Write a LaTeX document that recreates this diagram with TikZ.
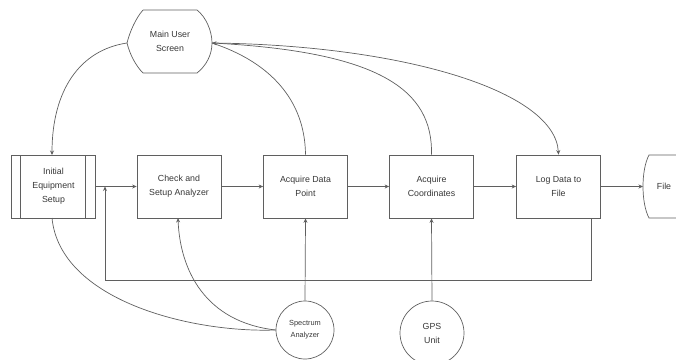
\documentclass[tikz,border=0pt]{standalone}
\usepackage{fontspec}
\setmainfont{Liberation Sans}
\usetikzlibrary{arrows.meta}
\definecolor{ln}{RGB}{95,95,95}
\definecolor{tx}{RGB}{55,55,55}
\begin{document}
\begin{tikzpicture}[x=1pt,y=-1pt,
  line width=0.7pt,
  every node/.style={text=tx,font=\fontsize{8.8}{14}\selectfont,align=center},
  procbox/.style={draw=ln,rectangle,minimum width=84pt,minimum height=63pt,inner sep=1pt},
  ext/.style={draw=ln,circle,inner sep=0pt},
  conn/.style={draw=ln},
  arr/.style={conn,-{Stealth[length=4.5pt,width=4pt]}}]
\useasboundingbox (0,0) rectangle (676,359);
% boxes
\node[procbox] (initial) at (53.5,186.5) {Initial\\Equipment\\Setup};
\draw[ln] (20,155) -- (20,218) (85,155) -- (85,218);
\node[procbox] (check) at (179,186.5) {Check and\\Setup Analyzer};
\node[procbox] (acq) at (305.5,186.5) {Acquire Data\\Point};
\node[procbox] (coord) at (431.5,186.5) {Acquire\\Coordinates};
\node[procbox] (logd) at (558.5,186.5) {Log Data to\\File};
% file shape
\draw[ln] (680,155) -- (649,155) .. controls (641,170) and (641,203) .. (649,218) -- (680,218);
\coordinate (fileL) at (643,186.5);
\node (file) at (664,186.5) {File};
% main user screen
\draw[ln] (143,10) -- (197,10) .. controls (206,17) and (212,31) .. (212,43)
  .. controls (212,55) and (206,66) .. (197,73) -- (143,73)
  .. controls (136,66) and (130,55) .. (127,43)
  .. controls (130,31) and (136,18) .. (143,10);
\node (main) at (170,41.5) {Main User\\Screen};
\coordinate (mainL) at (127,43);
\coordinate (mainR) at (212,43);
% circles
\node[ext,minimum size=58pt,font=\fontsize{7.4}{12}\selectfont] (spec) at (305,330) {Spectrum\\Analyzer};
\node[ext,minimum size=64pt] (gps) at (432,333) {GPS\\Unit};
% main flow
\draw[arr] (initial.east) -- (check.west);
\draw[arr] (check.east) -- (acq.west);
\draw[arr] (acq.east) -- (coord.west);
\draw[arr] (coord.east) -- (logd.west);
\draw[arr] (logd.east) -- (fileL);
% feedback loop
\coordinate (fbA) at (591,218);
\coordinate (fbB) at (105,186.5);
\draw[arr] (fbA) -- (591,280) -- (105,280) -- (fbB);
% inputs from below
\draw[arr] (spec.north) -- (acq.south);
\draw[arr] (gps.north) -- (coord.south);
\draw[arr] (spec.west) .. controls (205,322) and (180,270) .. (178,218);
\draw[conn] (spec.west) .. controls (190,333) and (60,300) .. (52,218);
% from main user screen
\draw[arr] (mainL) .. controls (80,50) and (52,90) .. (52,155);
\draw[conn] (mainR) .. controls (270,62) and (305,100) .. (acq.north);
\draw[arr] (coord.north) .. controls (433,90) and (380,52) .. (mainR);
\draw[arr] (mainR) .. controls (400,45) and (555,90) .. (logd.north);
\end{tikzpicture}
\end{document}
